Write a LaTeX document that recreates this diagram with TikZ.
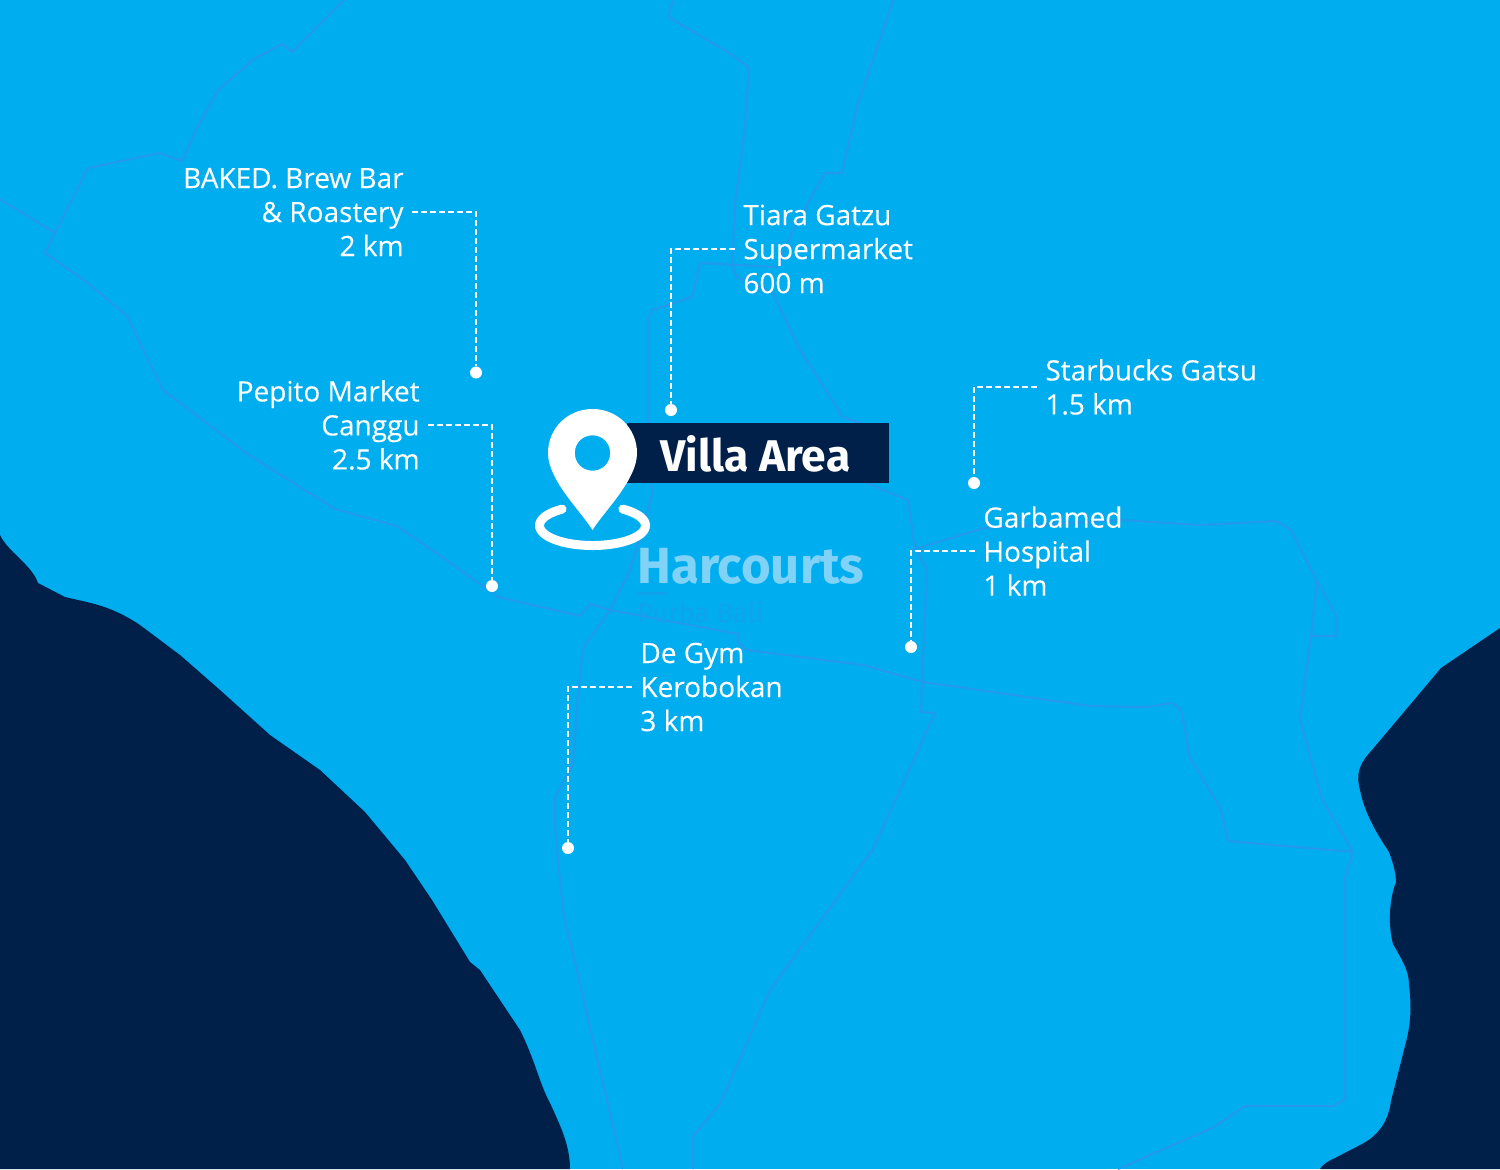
\documentclass[tikz,border=0pt]{standalone}
\usepackage{fontspec}
\setmainfont{Open Sans}[FakeBold=0.12]
\newfontfamily\headfont{Fira Sans}
\definecolor{sea}{HTML}{00ADEF}
\definecolor{navy}{HTML}{00204A}
\definecolor{road}{HTML}{2499EB}
\definecolor{logo}{HTML}{80D2F7}
\definecolor{faint}{HTML}{10A3EC}
\tikzset{
  land/.style={fill=navy,draw=none},
  roadline/.style={draw=road,line width=1pt,line join=round},
  leader/.style={draw=white,line width=1.1pt,dash pattern=on 3pt off 1.5pt},
  enddot/.style={circle,fill=white,draw=none,minimum size=6pt,inner sep=0pt},
  placeR/.style={text=white,align=right,font=\fontsize{14}{17}\selectfont,inner ysep=0pt,inner xsep=4pt,anchor=east},
  placeL/.style={text=white,align=left,font=\fontsize{14}{17}\selectfont,inner ysep=0pt,inner xsep=4pt,anchor=west},
}
\begin{document}
\begin{tikzpicture}[x=0.5pt,y=-0.5pt]
\useasboundingbox (0,0) rectangle (1500,1169);
\fill[sea] (0,0) rectangle (1500,1169);
% coast
\fill[land] (0,535) .. controls (8,552) and (32,565) .. (38,583) -- (65,597) .. controls (90,603) and (110,605) .. (140,625)
 -- (180,655) -- (220,690) -- (270,735) -- (320,770) -- (365,812) -- (405,860) -- (432,900) -- (470,962) -- (480,970) -- (520,1030)
 .. controls (535,1060) and (540,1085) .. (550,1103) .. controls (560,1125) and (570,1145) .. (570,1169) -- (0,1169) -- cycle;
\fill[land] (1500,628) -- (1441,668) -- (1372,750) .. controls (1358,765) and (1356,775) .. (1360,790)
 .. controls (1365,815) and (1378,835) .. (1389,852) .. controls (1394,865) and (1396,875) .. (1396,882)
 .. controls (1389,900) and (1388,925) .. (1393,944) .. controls (1402,960) and (1409,970) .. (1409,985)
 .. controls (1413,1015) and (1408,1035) .. (1405,1046) -- (1391,1101) .. controls (1388,1125) and (1375,1137) .. (1362,1144)
 -- (1335,1158) .. controls (1328,1161) and (1322,1165) .. (1320,1169) -- (1500,1169) -- cycle;
% roads
\draw[roadline] (344,0) -- (292,52) -- (282,44) -- (254,59) -- (218,90) -- (196,130) -- (182,161) -- (160,153) -- (88,168) -- (55,233) -- (45,253) -- (88,283) -- (127,316) -- (163,390) -- (249,455) -- (335,509) -- (397,526) -- (455,566) -- (498,597) -- (580,616) -- (590,604) -- (610,610) -- (738,634) -- (738,642) -- (747,650) -- (863,665) -- (923,682) -- (1090,706) -- (1147,707) -- (1171,703) -- (1181,709) -- (1190,758) -- (1221,809) -- (1228,841) -- (1353,852) -- (1345,878) -- (1345,1099) -- (1334,1106) -- (1245,1106) -- (1214,1127) -- (1118,1169);
\draw[roadline] (0,199) -- (55,233);
\draw[roadline] (673,0) -- (668,17) -- (733,55) -- (749,68) -- (745,127) -- (735,203) -- (732,266) -- (737,277) -- (773,293) -- (800,350) -- (843,417) -- (860,423) -- (867,483) -- (900,497) -- (908,500) -- (915,549) -- (927,568) -- (922,683) -- (921,712) -- (935,713) -- (873,849) -- (770,990) -- (720,1104) -- (693,1136) -- (693,1169);
\draw[roadline] (893,0) -- (857,107) -- (842,173) -- (825,173) -- (793,230) -- (777,267) -- (700,263) -- (692,297) -- (652,310) -- (648,320) -- (648,423) -- (650,483) -- (653,490) -- (648,510) -- (630,570) -- (610,610) -- (583,648) -- (578,696) -- (573,764) -- (555,798) -- (555,828) -- (563,911) -- (623,1169);
\draw[roadline] (915,549) -- (984,528) -- (1123,520) -- (1200,525) -- (1276,521) -- (1291,530) -- (1317,581) -- (1336,615) -- (1336,636) -- (1311,636) -- (1300,718) -- (1322,799) -- (1353,852);
\draw[roadline] (1317,581) -- (1311,636);
% logo
\node[anchor=base west,inner sep=0pt,text=logo,font=\headfont\bfseries\fontsize{25.4}{26}\selectfont] (harcourts) at (637,583) {Harcourts};
\fill[faint] (637,592) rectangle (667,595);
\node[anchor=base west,inner sep=0pt,text=faint,font=\headfont\fontsize{13.6}{15}\selectfont] (purba) at (637,622) {Purba Bali};
% banner
\fill[navy] (627,423) rectangle (889,483);
\node[anchor=base west,inner sep=0pt,text=white,font=\headfont\bfseries\fontsize{22.2}{23}\selectfont] (villa) at (660,471) {Villa Area};
% pin
\fill[white,even odd rule] (592.5,530) .. controls (580,510) and (548,480) .. (548,453) .. controls (548,428) and (568,409) .. (592.5,409) .. controls (617,409) and (637,428) .. (637,453) .. controls (637,480) and (605,510) .. (592.5,530) -- cycle
 (610.2,453) .. controls (610.2,443) and (602.5,435.3) .. (592.5,435.3) .. controls (582.5,435.3) and (574.8,443) .. (574.8,453) .. controls (574.8,463) and (582.5,470.7) .. (592.5,470.7) .. controls (602.5,470.7) and (610.2,463) .. (610.2,453) -- cycle;
\draw[white,line width=4.5pt,line cap=round] plot[domain=235:-55,samples=80,smooth] ({592.5+53*cos(\x)},{525.5+20*sin(\x)});
% labels
\node[placeR] (baked) at (412,212) {BAKED. Brew Bar\\\& Roastery\\2 km};
\node[placeR] (pepito) at (428,425) {Pepito Market\\Canggu\\2.5 km};
\node[placeL] (tiara) at (735,249) {Tiara Gatzu\\Supermarket\\600 m};
\node[placeL] (starbucks) at (1037,387) {Starbucks Gatsu\\1.5 km};
\node[placeL] (garbamed) at (975,551) {Garbamed\\Hospital\\1 km};
\node[placeL] (degym) at (632,687) {De Gym\\Kerobokan\\3 km};
% dots
\node[enddot] (bakeddot) at (476,372.5) {};
\node[enddot] (pepitodot) at (492,586) {};
\node[enddot] (tiaradot) at (671,410) {};
\node[enddot] (starbucksdot) at (974,483) {};
\node[enddot] (garbameddot) at (911,647) {};
\node[enddot] (degymdot) at (568,848) {};
% leaders
\draw[leader] (baked.east) -| (bakeddot);
\draw[leader] (pepito.east) -| (pepitodot);
\draw[leader] (tiara.west) -| (tiaradot);
\draw[leader] (starbucks.west) -| (starbucksdot);
\draw[leader] (garbamed.west) -| (garbameddot);
\draw[leader] (degym.west) -| (degymdot);
\end{tikzpicture}
\end{document}
